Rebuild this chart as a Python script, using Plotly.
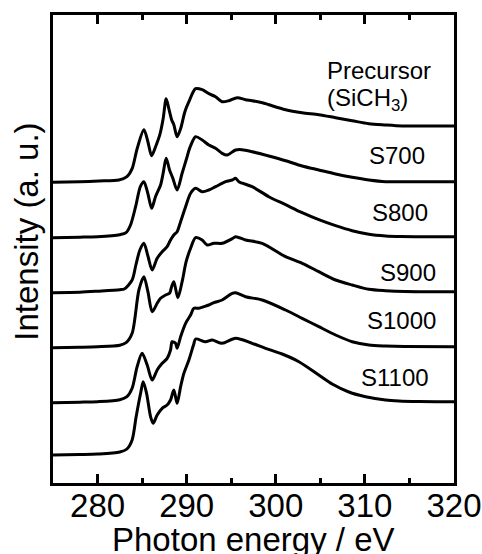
import plotly.graph_objects as go

# ---- data (photon energy in eV, intensity in a.u. relative to each curve's own baseline) ----
names = ["Precursor", "S700", "S800", "S900", "S1000", "S1100"]
offsets = [3.013, 2.463, 1.913, 1.363, 0.813, 0.29]

x_pre = [275, 278, 280.15, 282.4, 283.3, 283.88, 284.44, 285.2, 285.65, 286.06, 286.51, 286.99, 287.36, 287.7,
         288.0, 288.31, 288.56, 288.93, 289.32, 289.8, 290.25, 291.0, 291.74, 292.49, 293.24, 293.98, 294.74,
         295.67, 296.6, 297.35, 298.5, 299.22, 301.1, 302.96, 304.83, 306.71, 308.57, 310.45, 312.32, 314.19,
         316.06, 318, 320]
y_pre = [-0.005, 0.0, 0.007, 0.017, 0.05, 0.13, 0.33, 0.52, 0.40, 0.26, 0.35, 0.47, 0.63, 0.83,
         0.73, 0.62, 0.57, 0.45, 0.53, 0.70, 0.80, 0.93, 0.92, 0.88, 0.85, 0.80, 0.81,
         0.84, 0.82, 0.81, 0.79, 0.77, 0.72, 0.69, 0.67, 0.64, 0.61, 0.58, 0.567, 0.557,
         0.557, 0.557, 0.557]

x_700 = [275, 278, 280, 282.5, 283.2, 283.7, 284.27, 284.8, 285.2, 285.65, 286.07, 286.5, 287.07, 287.36, 287.7,
         288.08, 288.45, 288.93, 289.49, 289.94, 290.4, 291.0, 291.74, 292.49, 293.24, 293.98, 294.55, 295.49,
         296.2, 297.35, 299.22, 301.1, 302.96, 304.83, 306.71, 308.57, 310.45, 312.32, 314.2, 317, 320]
y_700 = [-0.01, -0.005, 0.0, 0.02, 0.04, 0.117, 0.30, 0.50, 0.55, 0.43, 0.284, 0.40, 0.517, 0.634, 0.784,
         0.667, 0.584, 0.467, 0.634, 0.767, 0.90, 1.0, 0.967, 0.917, 0.884, 0.834, 0.817, 0.867,
         0.87, 0.85, 0.807, 0.76, 0.707, 0.667, 0.627, 0.594, 0.567, 0.55, 0.55, 0.55, 0.55]

x_800 = [275, 278, 280, 282.5, 283.0, 283.88, 284.3, 284.75, 285.2, 285.65, 286.13, 286.69, 287.25, 287.81, 288.19,
         288.56, 288.93, 289.32, 289.88, 290.44, 291.0, 291.74, 292.49, 293.24, 294.37, 295.11, 295.49, 295.86,
         297.35, 299.22, 301.1, 302.96, 304.83, 306.71, 308.57, 310.45, 312.32, 314.0, 317, 320]
y_800 = [-0.01, -0.005, 0.005, 0.02, 0.027, 0.117, 0.267, 0.417, 0.484, 0.357, 0.217, 0.334, 0.40, 0.45, 0.517,
         0.567, 0.60, 0.70, 0.85, 0.984, 1.034, 1.0, 1.017, 1.05, 1.10, 1.117, 1.134, 1.10,
         1.05, 0.95, 0.87, 0.79, 0.72, 0.66, 0.61, 0.575, 0.558, 0.552, 0.55, 0.55]

x_900 = [275, 278, 280, 282.5, 283.2, 283.88, 284.64, 285.2, 285.65, 286.13, 286.69, 287.07, 287.63, 288.08, 288.31,
         288.56, 289.01, 289.49, 289.94, 290.44, 291.0, 291.74, 292.3, 293.05, 293.98, 295.11, 295.49, 296.61,
         298.47, 301.1, 302.96, 304.83, 306.71, 308.57, 310.45, 312.32, 314.5, 320]
y_900 = [-0.01, -0.005, 0.0, 0.015, 0.04, 0.134, 0.567, 0.70, 0.55, 0.35, 0.434, 0.484, 0.517, 0.534, 0.60,
         0.65, 0.49, 0.65, 0.85, 0.984, 1.09, 1.067, 1.017, 1.034, 1.034, 1.08, 1.10, 1.067,
         1.034, 0.90, 0.834, 0.75, 0.667, 0.617, 0.574, 0.56, 0.552, 0.55]

x_1000 = [275, 278, 280, 282.5, 283.3, 283.88, 284.44, 285.0, 285.57, 286.13, 286.69, 287.25, 287.81, 288.19, 288.37,
          288.75, 288.93, 289.32, 289.88, 290.44, 290.81, 291.37, 291.93, 292.49, 293.05, 293.98, 295.11, 295.49,
          296.61, 298.47, 301.1, 302.96, 304.83, 306.71, 308.57, 310.45, 312.32, 314.5, 320]
y_1000 = [-0.01, -0.005, 0.0, 0.02, 0.05, 0.134, 0.35, 0.484, 0.367, 0.217, 0.317, 0.384, 0.434, 0.517, 0.60,
          0.584, 0.534, 0.65, 0.784, 0.867, 0.934, 0.934, 0.95, 0.967, 0.99, 1.017, 1.084, 1.09,
          1.05, 1.017, 0.917, 0.834, 0.75, 0.667, 0.60, 0.567, 0.557, 0.552, 0.55]

x_1100 = [275, 278, 280, 282.5, 283.3, 283.88, 284.33, 284.83, 285.12, 285.5, 285.95, 286.24, 286.69, 287.25, 287.81,
          288.19, 288.56, 288.93, 289.32, 289.69, 290.25, 290.8, 291.0, 292.12, 292.86, 293.98, 295.49, 297.35,
          298.85, 300.71, 302.59, 304.83, 306.33, 308.2, 310.08, 312.32, 313.82, 316, 320]
y_1100 = [-0.01, -0.005, 0.0, 0.02, 0.05, 0.14, 0.373, 0.607, 0.723, 0.607, 0.373, 0.307, 0.39, 0.457, 0.49,
          0.54, 0.64, 0.507, 0.673, 0.807, 0.94, 1.10, 1.15, 1.123, 1.14, 1.107, 1.157, 1.107,
          1.057, 1.0, 0.923, 0.79, 0.70, 0.62, 0.573, 0.54, 0.53, 0.525, 0.523]

xs = [x_pre, x_700, x_800, x_900, x_1000, x_1100]
ys = [y_pre, y_700, y_800, y_900, y_1000, y_1100]

major_ticks = [280, 290, 300, 310, 320]
minor_ticks = [285, 295, 305, 315]

FONT = "Liberation Sans, Arial, sans-serif"

fig = go.Figure()
for name, xv, yv, off in zip(names, xs, ys, offsets):
    fig.add_trace(go.Scatter(
        x=xv, y=[v + off for v in yv], mode="lines", name=name,
        line=dict(color="black", width=3, shape="spline", smoothing=0.8),
        showlegend=False, hoverinfo="skip"))

# curve labels
labels = [
    dict(text="Precursor", x=305.5, y=4.125, xanchor="left"),
    dict(text="(SiCH<sub>3</sub>)", x=305.5, y=3.84, xanchor="left"),
    dict(text="S700", x=316.97, y=3.28, xanchor="right"),
    dict(text="S800", x=317.3, y=2.71, xanchor="right"),
    dict(text="S900", x=318.2, y=2.11, xanchor="right"),
    dict(text="S1000", x=318.2, y=1.63, xanchor="right"),
    dict(text="S1100", x=317.4, y=1.06, xanchor="right"),
]
for lab in labels:
    fig.add_annotation(x=lab["x"], y=lab["y"], xref="x", yref="y", text=lab["text"],
                       showarrow=False, xanchor=lab["xanchor"], yanchor="middle",
                       font=dict(family=FONT, size=24, color="black"))

# axis titles
fig.add_annotation(text="Photon energy / eV", xref="paper", yref="paper", x=0.5, y=-0.12,
                   showarrow=False, xanchor="center", yanchor="middle",
                   font=dict(family=FONT, size=33, color="black"))
fig.add_annotation(text="Intensity (a. u.)", xref="paper", yref="paper", x=-0.066, y=0.536,
                   textangle=-90, showarrow=False, xanchor="center", yanchor="middle",
                   font=dict(family=FONT, size=33, color="black"))

fig.update_xaxes(
    range=[275, 320], tickmode="array", tickvals=major_ticks, ticktext=[str(v) for v in major_ticks],
    ticks="inside", ticklen=9, tickwidth=2.5, tickcolor="black",
    minor=dict(tickmode="array", tickvals=minor_ticks, ticks="inside", ticklen=5,
               tickwidth=2.5, tickcolor="black", showgrid=False),
    showline=True, linewidth=3, linecolor="black", mirror="allticks",
    showgrid=False, zeroline=False, automargin=False,
    tickfont=dict(family=FONT, size=33, color="black"), ticklabelstandoff=-9,
)
fig.update_yaxes(
    range=[0, 4.68], showticklabels=False, ticks="",
    showline=True, linewidth=3, linecolor="black", mirror=True,
    showgrid=False, zeroline=False, automargin=False,
)
fig.update_layout(
    width=482, height=554,
    margin=dict(l=53, r=28, t=15, b=71, pad=0),
    paper_bgcolor="white", plot_bgcolor="white",
)

fig.write_html("out.html", config={"displayModeBar": False},
               post_script="document.body.style.margin='0';")
